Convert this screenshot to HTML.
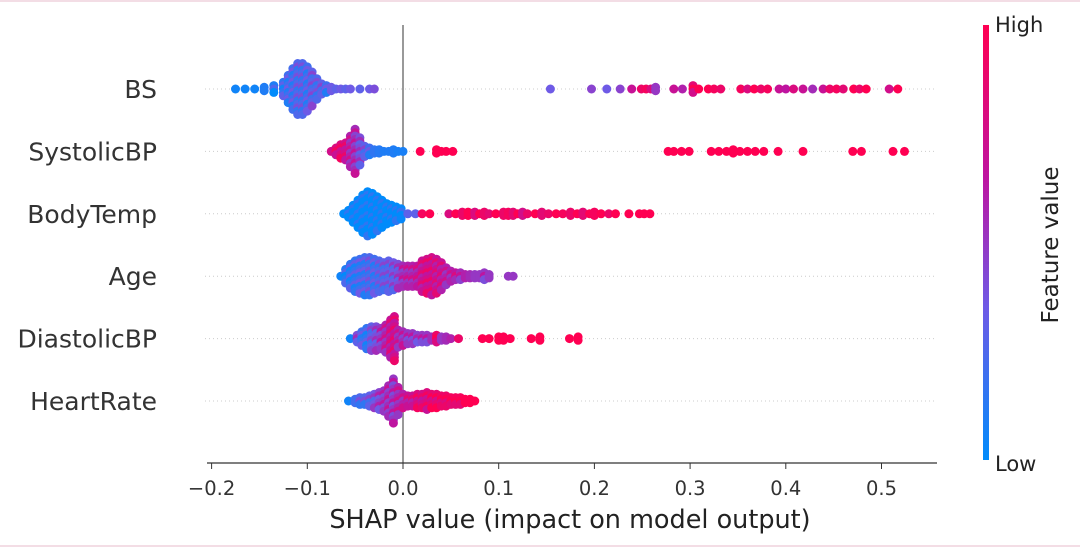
<!DOCTYPE html>
<html><head><meta charset="utf-8">
<style>
html,body{margin:0;padding:0;background:#fff;}
svg{display:block;font-family:"DejaVu Sans","Liberation Sans",sans-serif;}
</style></head>
<body>
<svg id="chart" width="1080" height="548" viewBox="0 0 1080 548">
<defs>
<linearGradient id="cbar" x1="0" y1="1" x2="0" y2="0">
<stop offset="0" stop-color="#008bfb"/><stop offset="0.35" stop-color="#6e5ae6"/>
<stop offset="0.65" stop-color="#be14a0"/><stop offset="1" stop-color="#ff0052"/>
</linearGradient>
</defs>
<rect x="0" y="0" width="1080" height="548" fill="#fff"/>
<line x1="0" y1="1" x2="1080" y2="1" stroke="#f3dde5" stroke-width="2"/>
<line x1="0" y1="546" x2="1080" y2="546" stroke="#f3dde5" stroke-width="2"/>
<g id="grid"></g>
<line x1="403" y1="25" x2="403" y2="463" stroke="#999" stroke-width="2"/>
<g id="dots"></g>
<g id="labels"></g>
<g id="axis"></g>
<line x1="207" y1="463" x2="937" y2="463" stroke="#333" stroke-width="1.2"/>
<text x="570" y="528" text-anchor="middle" font-size="25.5" fill="#222">SHAP value (impact on model output)</text>
<rect x="983" y="25" width="6" height="435" fill="url(#cbar)"/>
<text x="995" y="32" font-size="21" fill="#222">High</text>
<text x="995" y="471" font-size="21" fill="#222">Low</text>
<text transform="translate(1058,245) rotate(-90)" text-anchor="middle" font-size="23" fill="#222">Feature value</text>
</svg>
<script>
const features = ["BS","SystolicBP","BodyTemp","Age","DiastolicBP","HeartRate"];
const xTicks = [-0.2,-0.1,0.0,0.1,0.2,0.3,0.4,0.5];
const xTickLabels = ["\u22120.2","\u22120.1","0.0","0.1","0.2","0.3","0.4","0.5"];

const bsShap  = [-0.175,-0.165,-0.155,-0.145,-0.135,-0.125,-0.12,-0.115,-0.11,-0.105,-0.1,-0.095,-0.09,-0.085,-0.08,-0.075,-0.07,-0.065,-0.06,-0.055,-0.045,-0.035,-0.03,0.154,0.197,0.213,0.227,0.239,0.249,0.254,0.259,0.264,0.283,0.292,0.303,0.309,0.319,0.325,0.332,0.353,0.36,0.367,0.374,0.381,0.393,0.4,0.408,0.418,0.428,0.439,0.446,0.453,0.46,0.471,0.477,0.484,0.508,0.517];
const bsCount = [1,1,1,2,3,5,9,13,16,16,14,11,7,4,3,2,1,1,1,1,1,1,1,1,1,1,1,1,1,1,1,2,1,1,3,1,1,1,1,1,1,1,1,1,1,1,1,1,1,1,1,1,1,1,1,1,1,1];
const bsValue = [0.05,0.05,0.05,0.1,0.1,0.15,0.2,0.2,0.25,0.25,0.2,0.3,0.25,0.3,0.2,0.35,0.3,0.35,0.3,0.35,0.3,0.35,0.4,0.35,0.45,0.35,0.45,0.7,0.9,0.95,0.8,0.5,0.7,0.6,0.85,1,1,0.95,0.9,0.95,0.8,1,0.9,0.95,0.7,0.65,0.8,0.7,0.55,0.7,0.9,0.95,0.85,1,0.9,1,0.75,1];

const sbpShap  = [-0.075,-0.07,-0.065,-0.06,-0.055,-0.05,-0.045,-0.04,-0.035,-0.03,-0.025,-0.02,-0.015,-0.01,-0.005,0.0,0.018,0.035,0.04,0.045,0.052,0.277,0.283,0.291,0.299,0.322,0.33,0.338,0.345,0.352,0.36,0.368,0.377,0.392,0.418,0.47,0.479,0.512,0.524];
const sbpCount = [1,3,5,6,10,14,9,4,3,2,2,1,1,2,1,1,1,2,1,1,1,1,1,1,1,1,1,1,2,1,1,1,1,1,1,1,1,1,1];
const sbpValue = [0.75,0.8,0.8,0.75,0.6,0.55,0.4,0.3,0.2,0.15,0.12,0.1,0.1,0.1,0.08,0.08,1,1,1,1,1,1,1,1,1,1,1,1,1,1,1,1,1,1,1,1,1,1,1];

const btShap  = [-0.062,-0.057,-0.052,-0.047,-0.042,-0.037,-0.032,-0.027,-0.022,-0.017,-0.012,-0.007,-0.002,0.005,0.013,0.02,0.028,0.048,0.055,0.062,0.068,0.075,0.08,0.085,0.09,0.097,0.105,0.11,0.115,0.12,0.125,0.13,0.138,0.145,0.152,0.16,0.167,0.175,0.182,0.188,0.195,0.2,0.207,0.215,0.222,0.236,0.247,0.252,0.258];
const btCount = [1,3,6,9,12,14,13,11,9,7,6,5,4,1,1,1,1,1,1,2,2,2,1,2,1,1,2,2,2,1,2,1,1,2,1,1,1,2,1,2,1,2,1,1,1,1,1,1,1];
const btValue = [0,0,0,0,0,0,0,0,0,0,0,0,0.02,0.3,0.3,0.95,1,0.8,1,0.9,1,0.8,1,0.9,0.85,1,0.9,0.95,0.85,1,0.75,0.9,1,0.85,0.9,1,0.95,0.9,1,0.85,1,0.95,1,0.9,1,1,1,1,1];

const ageShap  = [-0.065,-0.06,-0.055,-0.05,-0.045,-0.04,-0.035,-0.03,-0.025,-0.02,-0.015,-0.01,-0.005,0.0,0.005,0.01,0.015,0.02,0.025,0.03,0.035,0.04,0.045,0.05,0.055,0.06,0.065,0.07,0.075,0.08,0.085,0.09,0.11,0.115];
const ageCount = [1,5,8,10,11,12,12,11,10,9,10,9,8,7,7,7,7,10,11,12,11,9,6,4,3,3,2,2,2,2,3,2,1,1];
const ageValue = [0.05,0.1,0.15,0.15,0.2,0.2,0.25,0.2,0.25,0.3,0.3,0.35,0.4,0.55,0.6,0.6,0.65,0.7,0.75,0.75,0.7,0.7,0.6,0.6,0.65,0.55,0.6,0.55,0.5,0.5,0.5,0.5,0.5,0.5];

const dbpShap  = [-0.055,-0.048,-0.043,-0.038,-0.033,-0.028,-0.023,-0.018,-0.013,-0.009,-0.005,0.0,0.005,0.01,0.015,0.02,0.025,0.03,0.035,0.04,0.045,0.05,0.058,0.083,0.09,0.1,0.105,0.112,0.134,0.143,0.174,0.183];
const dbpCount = [1,3,5,7,8,8,7,9,12,14,6,5,4,4,3,3,3,2,3,2,2,1,1,1,1,2,2,1,1,2,1,2];
const dbpValue = [0.05,0.4,0.2,0.15,0.3,0.4,0.5,0.6,0.7,0.75,0.6,0.55,0.5,0.5,0.45,0.5,0.5,0.55,0.9,0.5,0.55,0.6,0.9,1,1,1,1,1,1,1,1,1];

const hrShap  = [-0.057,-0.05,-0.045,-0.04,-0.035,-0.03,-0.025,-0.02,-0.015,-0.01,-0.005,0.0,0.005,0.01,0.015,0.02,0.025,0.03,0.035,0.04,0.045,0.05,0.055,0.06,0.065,0.07,0.075];
const hrCount = [1,2,3,3,4,5,6,7,10,14,9,5,4,4,5,5,6,5,5,4,4,3,3,3,2,2,1];
const hrValue = [0.05,0.2,0.25,0.25,0.3,0.35,0.45,0.5,0.55,0.5,0.6,0.6,0.7,0.7,0.8,0.75,0.8,0.85,0.85,0.9,0.9,0.95,0.95,0.95,1,1,1];

const featureShap  = [bsShap,sbpShap,btShap,ageShap,dbpShap,hrShap];
const featureCount = [bsCount,sbpCount,btCount,ageCount,dbpCount,hrCount];
const featureValue = [bsValue,sbpValue,btValue,ageValue,dbpValue,hrValue];

const NS = "http://www.w3.org/2000/svg";
const X0 = 403, XS = 957;
function xScale(v){ return X0 + v*XS; }
function rowY(i){ return 89 + i*62.4; }
const stops = [[0,[0,139,251]],[0.35,[110,90,230]],[0.65,[190,20,160]],[1,[255,0,82]]];
function color(t){
  t=Math.max(0,Math.min(1,t));
  for(let k=1;k<stops.length;k++){
    if(t<=stops[k][0]){
      const a=stops[k-1],b=stops[k],f=(t-a[0])/(b[0]-a[0]);
      return "rgb("+a[1].map((c,j)=>Math.round(c+(b[1][j]-c)*f)).join(",")+")";
    }
  }
  return "rgb(255,0,82)";
}
const grid=document.getElementById("grid"), dots=document.getElementById("dots"), labels=document.getElementById("labels"), axis=document.getElementById("axis");
features.forEach((f,i)=>{
  const y=rowY(i);
  const gl=document.createElementNS(NS,"line");
  gl.setAttribute("x1",205);gl.setAttribute("x2",935);gl.setAttribute("y1",y);gl.setAttribute("y2",y);
  gl.setAttribute("stroke","#ccc");gl.setAttribute("stroke-dasharray","1,3");gl.setAttribute("stroke-width","1");
  
  
  grid.appendChild(gl);
  const t=document.createElementNS(NS,"text");
  t.setAttribute("x",157);t.setAttribute("y",y+9);t.setAttribute("text-anchor","end");
  t.setAttribute("font-size","25");t.setAttribute("fill","#333");t.textContent=f;
  
  
  labels.appendChild(t);
  const g=document.createElementNS(NS,"g");
  
  
  dots.appendChild(g);
  const sh=featureShap[i], cn=featureCount[i], vl=featureValue[i];
  for(let j=0;j<sh.length;j++){
    const n=cn[j];
    for(let k=0;k<n;k++){
      const c=document.createElementNS(NS,"circle");
      const off=(k-(n-1)/2)*3.4;
      const mix=(k%3===1)?0.15:((k%3===2)?-0.1:0);
      c.setAttribute("cx",xScale(sh[j]).toFixed(1));
      c.setAttribute("cy",(y+off).toFixed(1));
      c.setAttribute("r","4.5");
      c.setAttribute("fill",color(vl[j]+(n>2?mix:0)));
      
      
      g.appendChild(c);
    }
  }
});
xTicks.forEach((v,i)=>{
  const x=xScale(v);
  const l=document.createElementNS(NS,"line");
  l.setAttribute("x1",x);l.setAttribute("x2",x);l.setAttribute("y1",463);l.setAttribute("y2",469);
  l.setAttribute("stroke","#333");
  
  
  axis.appendChild(l);
  const t=document.createElementNS(NS,"text");
  t.setAttribute("x",x);t.setAttribute("y",495);t.setAttribute("text-anchor","middle");
  t.setAttribute("font-size","19.5");t.setAttribute("fill","#333");t.textContent=xTickLabels[i];
  
  
  axis.appendChild(t);
});
</script>
</body></html>
